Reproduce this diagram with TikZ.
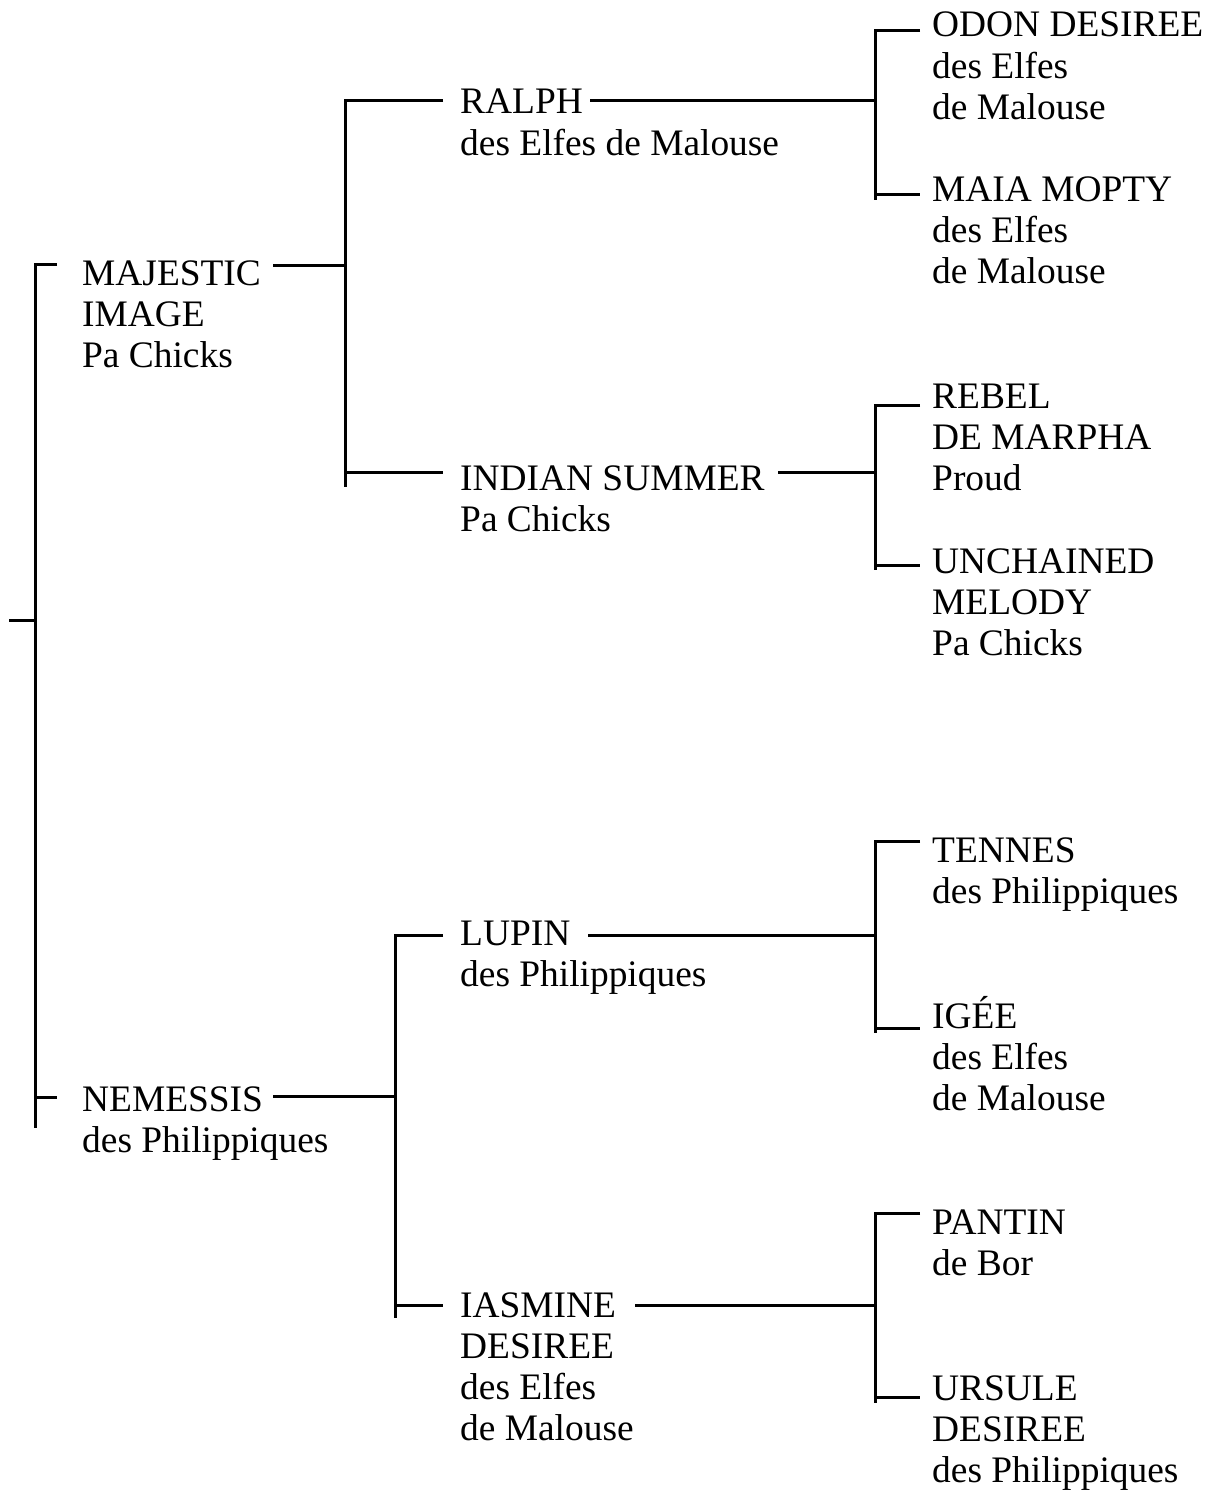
\documentclass[tikz,border=0pt]{standalone}
\usepackage{fontspec}
\setmainfont{Liberation Serif}
\newcommand{\blk}[1]{\begin{tabular}[t]{@{}l@{}}#1\end{tabular}}
\begin{document}
\begin{tikzpicture}[x=1pt,y=-1pt,
  lbl/.style={inner sep=0pt, anchor=base west, font=\fontsize{37.4}{41.3}\selectfont},
  link/.style={draw=black, line width=3pt, line cap=butt, line join=miter}]
\useasboundingbox (0,0) rectangle (1210,1490);
% ---------- labels ----------
\node[lbl] (maj) at (82,285) {\blk{MAJESTIC\\IMAGE\\Pa Chicks}};
\node[lbl] (nem) at (82,1111) {\blk{NEMESSIS\\des Philippiques}};
\node[lbl] (ral) at (460,114) {\blk{RALPH\\des Elfes de Malouse}};
\node[lbl] (ind) at (460,490) {\blk{INDIAN SUMMER\\Pa Chicks}};
\node[lbl] (lup) at (460,945) {\blk{LUPIN\\des Philippiques}};
\node[lbl] (ias) at (460,1317) {\blk{IASMINE\\DESIREE\\des Elfes\\de Malouse}};
\node[lbl] (odo) at (932,37) {\blk{ODON DESIREE\\des Elfes\\de Malouse}};
\node[lbl] (mai) at (932,201) {\blk{MAIA MOPTY\\des Elfes\\de Malouse}};
\node[lbl] (reb) at (932,408) {\blk{REBEL\\DE MARPHA\\Proud}};
\node[lbl] (unc) at (932,573) {\blk{UNCHAINED\\MELODY\\Pa Chicks}};
\node[lbl] (ten) at (932,862) {\blk{TENNES\\des Philippiques}};
\node[lbl] (ige) at (932,1028) {\blk{IGÉE\\des Elfes\\de Malouse}};
\node[lbl] (pan) at (932,1234) {\blk{PANTIN\\de Bor}};
\node[lbl] (urs) at (932,1400) {\blk{URSULE\\DESIREE\\des Philippiques}};
% ---------- junction coordinates ----------
\coordinate (rootL) at (9,620);
\coordinate (rootJ) at (35,620);
\coordinate (rootT) at (35,264);
\coordinate (rootB) at (35,1128);
\coordinate (majIn) at (57,264);
\coordinate (nemJ) at (35,1097);
\coordinate (nemIn) at (57,1097);
% upper sire
\coordinate (majOut) at (273,265);
\coordinate (majJ) at (345,265);
\coordinate (majT) at (345,101);
\coordinate (majB) at (345,487);
\coordinate (ralIn) at (443,101);
\coordinate (indJ) at (345,472);
\coordinate (indIn) at (443,472);
\coordinate (ralOut) at (590,101);
\coordinate (ralJ) at (875,101);
\coordinate (ralT) at (875,31);
\coordinate (ralB) at (875,200);
\coordinate (odoIn) at (920,31);
\coordinate (maiJ) at (875,195);
\coordinate (maiIn) at (920,195);
\coordinate (indOut) at (778,472);
\coordinate (indJ2) at (875,472);
\coordinate (indT) at (875,405);
\coordinate (indB) at (875,570);
\coordinate (rebIn) at (920,405);
\coordinate (uncJ) at (875,565);
\coordinate (uncIn) at (920,565);
% lower dam
\coordinate (nemOut) at (273,1096);
\coordinate (nemJ2) at (395,1096);
\coordinate (nemT) at (395,935);
\coordinate (nemB) at (395,1318);
\coordinate (lupIn) at (443,935);
\coordinate (iasJ) at (395,1305);
\coordinate (iasIn) at (443,1305);
\coordinate (lupOut) at (588,935);
\coordinate (lupJ) at (875,935);
\coordinate (lupT) at (875,841);
\coordinate (lupB) at (875,1033);
\coordinate (tenIn) at (920,841);
\coordinate (igeJ) at (875,1028);
\coordinate (igeIn) at (920,1028);
\coordinate (iasOut) at (635,1305);
\coordinate (iasJ2) at (875,1305);
\coordinate (iasT) at (875,1213);
\coordinate (iasB) at (875,1403);
\coordinate (panIn) at (920,1213);
\coordinate (ursJ) at (875,1397);
\coordinate (ursIn) at (920,1397);
% ---------- connectors ----------
\path[link] (rootL) -- (rootJ);
\path[link] (majIn) -- (rootT) -- (rootB);
\path[link] (nemJ) -- (nemIn);
\path[link] (majOut) -- (majJ);
\path[link] (ralIn) -- (majT) -- (majB);
\path[link] (indJ) -- (indIn);
\path[link] (ralOut) -- (ralJ);
\path[link] (odoIn) -- (ralT) -- (ralB);
\path[link] (maiJ) -- (maiIn);
\path[link] (indOut) -- (indJ2);
\path[link] (rebIn) -- (indT) -- (indB);
\path[link] (uncJ) -- (uncIn);
\path[link] (nemOut) -- (nemJ2);
\path[link] (lupIn) -- (nemT) -- (nemB);
\path[link] (iasJ) -- (iasIn);
\path[link] (lupOut) -- (lupJ);
\path[link] (tenIn) -- (lupT) -- (lupB);
\path[link] (igeJ) -- (igeIn);
\path[link] (iasOut) -- (iasJ2);
\path[link] (panIn) -- (iasT) -- (iasB);
\path[link] (ursJ) -- (ursIn);
\end{tikzpicture}
\end{document}
